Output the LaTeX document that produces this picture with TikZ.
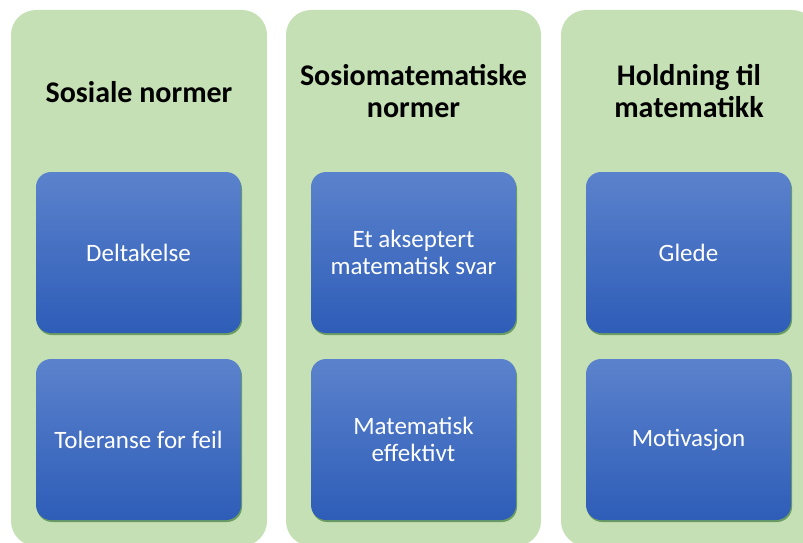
\documentclass[tikz,border=0pt]{standalone}
\usepackage{fontspec}
\setmainfont{Carlito}
\usetikzlibrary{shadows}
\definecolor{colgreen}{HTML}{C5E0B4}
\definecolor{bluetop}{HTML}{5B82CC}
\definecolor{bluebot}{HTML}{2E5DB8}
\begin{document}
\begin{tikzpicture}[x=1pt,y=-1pt,
  column/.style={fill=colgreen, draw=none, rounded corners=25pt},
  title/.style={font=\fontsize{30}{32}\selectfont\bfseries, text=black, align=center},
  card/.style={rounded corners=15pt, top color=bluetop, bottom color=bluebot, draw=none,
    drop shadow={shadow xshift=1pt, shadow yshift=-2pt, opacity=0.45, fill=black!70!green}},
  cardtext/.style={font=\fontsize{25}{26.5}\selectfont, text=white, align=center}]
\useasboundingbox (0,0) rectangle (803,543);
% columns
\fill[column] (11,10) rectangle (267,546);
\fill[column] (286,10) rectangle (541,546);
\fill[column] (561,10) rectangle (817,546);
% titles
\node[title] (t1) at (139,92) {Sosiale normer};
\node[title] (t2) at (413.5,91) {Sosiomatematiske\\normer};
\node[title] (t3) at (689,91) {Holdning til\\matematikk};
% cards
\foreach \x/\n in {36/1,311/2,586/3}{
  \path[card] (\x,172) rectangle ++(205,161);
  \path[card] (\x,359) rectangle ++(205,161);
}
\node[cardtext] (a1) at (138.5,252.5) {Deltakelse};
\node[cardtext] (b1) at (138.5,439.5) {Toleranse for feil};
\node[cardtext] (a2) at (413.5,252.5) {Et akseptert\\matematisk svar};
\node[cardtext] (b2) at (413.5,439.5) {Matematisk\\effektivt};
\node[cardtext] (a3) at (688.5,252.5) {Glede};
\node[cardtext] (b3) at (688.5,439.5) {Motivasjon};
\end{tikzpicture}
\end{document}
